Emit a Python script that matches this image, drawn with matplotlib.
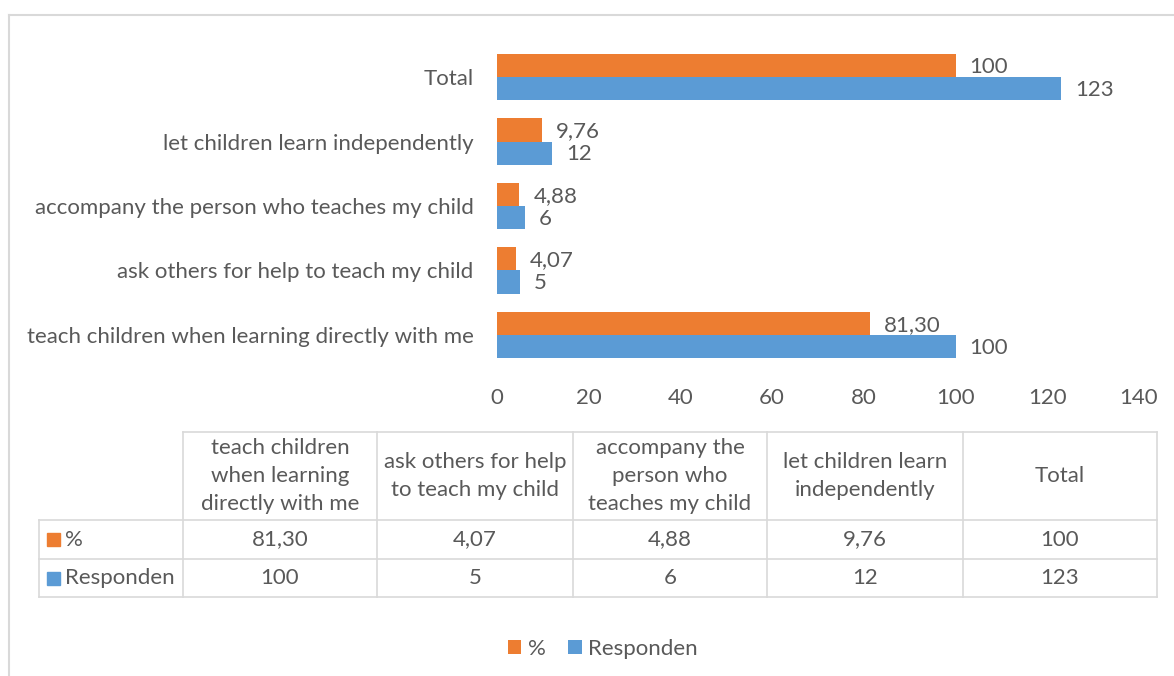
import matplotlib
matplotlib.use("Agg")
import matplotlib.pyplot as plt
from matplotlib.lines import Line2D
from matplotlib.patches import Rectangle
import numpy as np

# ---- data ----
categories = ["teach children when learning directly with me",
              "ask others for help to teach my child",
              "accompany the person who teaches my child",
              "let children learn independently",
              "Total"]
table_headers = ["teach children\nwhen learning\ndirectly with me",
                 "ask others for help\nto teach my child",
                 "accompany the\nperson who\nteaches my child",
                 "let children learn\nindependently",
                 "Total"]
series_names = ["%", "Responden"]
pct_values = [81.30, 4.07, 4.88, 9.76, 100]
pct_labels = ["81,30", "4,07", "4,88", "9,76", "100"]
resp_values = [100, 5, 6, 12, 123]
resp_labels = ["100", "5", "6", "12", "123"]
x_ticks = [0, 20, 40, 60, 80, 100, 120, 140]

ORANGE = "#ED7D31"
BLUE = "#5B9BD5"
TXT = "#595959"
GRID = "#D9D9D9"
FONT = "Lato"
FS = 16

W, H = 1174, 676
fig = plt.figure(figsize=(W / 100, H / 100), dpi=100)
plt.rcParams['font.family'] = [FONT, 'DejaVu Sans']

def fx(x):
    return x / W

def fy(y):
    return 1 - y / H

# outer frame
fig.add_artist(Line2D([fx(9), fx(9)], [fy(15), fy(H + 5)], color=GRID, lw=1.5))
fig.add_artist(Line2D([fx(9), fx(W + 5)], [fy(15), fy(15)], color=GRID, lw=1.5))

# ---- bar chart ----
left, right = 497, 1139
top, bottom = 44.75, 367.25
ax = fig.add_axes([fx(left), fy(bottom), fx(right) - fx(left), fy(top) - fy(bottom)])
y = np.arange(len(categories))
bh = 0.357
b1 = ax.barh(y + bh / 2, pct_values, height=bh, color=ORANGE, label=series_names[0])
b2 = ax.barh(y - bh / 2, resp_values, height=bh, color=BLUE, label=series_names[1])
for bars, labs in ((b1, pct_labels), (b2, resp_labels)):
    for rect, lab in zip(bars, labs):
        ax.annotate(lab, (rect.get_width(), rect.get_y() + rect.get_height() / 2),
                    xytext=(10, -1), textcoords="offset points", ha="left", va="center",
                    fontsize=FS, color=TXT, family=FONT)
ax.set_xlim(0, 140)
ax.set_ylim(-0.5, len(categories) - 0.5)
ax.set_xticks(x_ticks)
ax.set_yticks(y)
ax.set_yticklabels(categories)
ax.tick_params(axis="both", length=0, labelsize=FS, labelcolor=TXT)
ax.tick_params(axis="y", pad=17)
ax.tick_params(axis="x", pad=15)
for s in ax.spines.values():
    s.set_visible(False)

# ---- data table ----
col_edges = [183, 377, 573, 767, 963, 1157]
tleft = 39
row_edges = [432, 520, 559, 597]
lw = 1.2
# horizontal lines
fig.add_artist(Line2D([fx(col_edges[0]), fx(col_edges[-1])], [fy(row_edges[0])] * 2, color=GRID, lw=lw))
for r in row_edges[1:]:
    fig.add_artist(Line2D([fx(tleft), fx(col_edges[-1])], [fy(r)] * 2, color=GRID, lw=lw))
# vertical lines
fig.add_artist(Line2D([fx(tleft)] * 2, [fy(row_edges[1]), fy(row_edges[-1])], color=GRID, lw=lw))
for c in col_edges:
    fig.add_artist(Line2D([fx(c)] * 2, [fy(row_edges[0]), fy(row_edges[-1])], color=GRID, lw=lw))

hdr_y = (row_edges[0] + row_edges[1]) / 2
for i, h in enumerate(table_headers):
    cx = (col_edges[i] + col_edges[i + 1]) / 2
    fig.text(fx(cx), fy(hdr_y), h, ha="center", va="center", fontsize=FS, color=TXT,
             linespacing=1.5)

rows = [(series_names[0], ORANGE, pct_labels), (series_names[1], BLUE, resp_labels)]
for ri, (name, col, labs) in enumerate(rows):
    cy = (row_edges[ri + 1] + row_edges[ri + 2]) / 2
    fig.add_artist(Rectangle((fx(47), fy(cy + 6.5)), fx(13), 13 / H, color=col, transform=fig.transFigure))
    fig.text(fx(65), fy(cy), name, ha="left", va="center", fontsize=FS, color=TXT)
    for i, lab in enumerate(labs):
        cx = (col_edges[i] + col_edges[i + 1]) / 2
        fig.text(fx(cx), fy(cy), lab, ha="center", va="center", fontsize=FS, color=TXT)

# ---- legend ----
fig.legend(handles=[b1, b2], labels=series_names, loc="center",
           bbox_to_anchor=(fx(603), fy(649)), ncol=2, frameon=False,
           fontsize=FS, labelcolor=TXT, handlelength=0.6, handleheight=0.6,
           handletextpad=0.3, columnspacing=1.0)

fig.savefig("out.png", dpi=100)
